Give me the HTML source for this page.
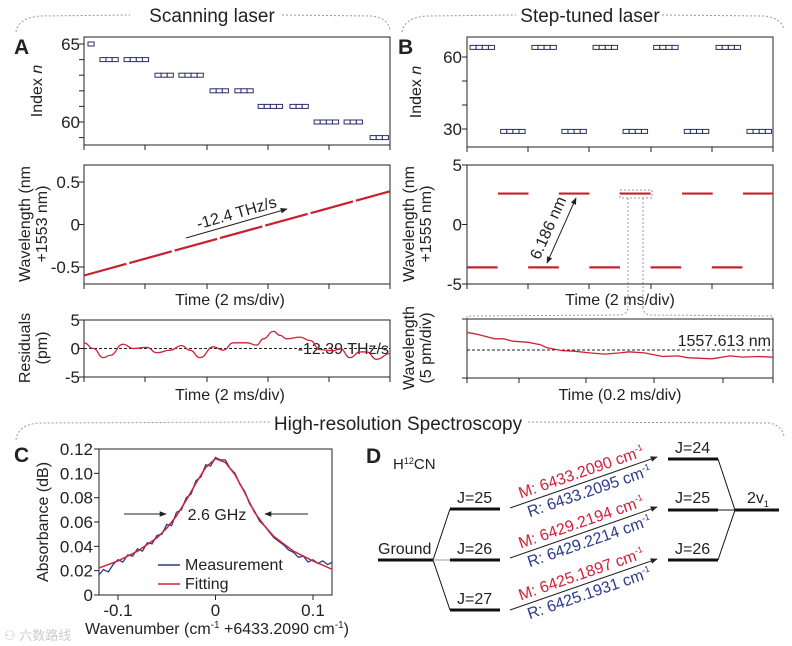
<!DOCTYPE html>
<html><head><meta charset="utf-8">
<style>
html,body{margin:0;padding:0;background:#fff;}
svg{display:block;font-family:"Liberation Sans",sans-serif;}
text{fill:#222;}
</style></head>
<body>
<svg id="fig" width="792" height="646" viewBox="0 0 792 646" xmlns="http://www.w3.org/2000/svg">
<defs>
<marker id="ah" viewBox="0 0 10 10" refX="9" refY="5" markerWidth="7" markerHeight="7" orient="auto-start-reverse"><path d="M0,1 L10,5 L0,9 z" fill="#222"/></marker>
</defs>
<g fill="none" stroke="#999" stroke-width="1" stroke-dasharray="2 2">
<path d="M16,32 Q18,18 40,16 L130,15"/><path d="M282,15 L372,16 Q388,18 390,30"/>
<path d="M402,32 Q404,18 426,16 L516,15"/><path d="M662,15 L764,16 Q782,18 784,30"/>
<path d="M16,440 Q18,424 40,423 L270,422"/><path d="M528,422 L770,423 Q782,426 784,436"/>
<path d="M467,322 L467,316 L620,315 Q628,314 628,307"/><path d="M643,307 Q643,314 650,315 L773,316 L773,322"/>
</g>
<text x="212" y="22" font-size="19" text-anchor="middle">Scanning laser</text>
<text x="590" y="22" font-size="19" text-anchor="middle">Step-tuned laser</text>
<text x="398" y="430" font-size="19" text-anchor="middle">High-resolution Spectroscopy</text>
<text x="14" y="54" font-size="21" font-weight="bold">A</text>
<text x="398" y="54" font-size="21" font-weight="bold">B</text>
<text x="14" y="462" font-size="21" font-weight="bold">C</text>
<text x="366" y="463" font-size="21" font-weight="bold">D</text>

<text transform="translate(42,91) rotate(-90)" font-size="16" text-anchor="middle">Index <tspan font-style="italic">n</tspan></text>
<text transform="translate(30,224) rotate(-90)" font-size="16" text-anchor="middle">Wavelength (nm</text>
<text transform="translate(47,224) rotate(-90)" font-size="16" text-anchor="middle">+1553 nm)</text>
<text x="230" y="305" font-size="16" text-anchor="middle">Time (2 ms/div)</text>
<text transform="translate(30,348) rotate(-90)" font-size="16" text-anchor="middle">Residuals</text>
<text transform="translate(47,348) rotate(-90)" font-size="16" text-anchor="middle">(pm)</text>
<text x="230" y="400" font-size="16" text-anchor="middle">Time (2 ms/div)</text>
<text transform="translate(421,92) rotate(-90)" font-size="16" text-anchor="middle">Index <tspan font-style="italic">n</tspan></text>
<text transform="translate(414,224) rotate(-90)" font-size="16" text-anchor="middle">Wavelength (nm</text>
<text transform="translate(431,224) rotate(-90)" font-size="16" text-anchor="middle">+1555 nm)</text>
<text x="620" y="305" font-size="16" text-anchor="middle">Time (2 ms/div)</text>
<text transform="translate(414,348) rotate(-90)" font-size="16" text-anchor="middle">Wavelength</text>
<text transform="translate(431,348) rotate(-90)" font-size="16" text-anchor="middle">(5 pm/div)</text>
<text x="620" y="400" font-size="16" text-anchor="middle">Time (0.2 ms/div)</text>
<text transform="translate(48,522) rotate(-90)" font-size="16" text-anchor="middle">Absorbance (dB)</text>
<text x="217" y="634" font-size="16" text-anchor="middle">Wavenumber (cm<tspan font-size="10" dy="-6">-1</tspan><tspan dy="6"> +6433.2090 cm</tspan><tspan font-size="10" dy="-6">-1</tspan><tspan dy="6">)</tspan></text>

<line x1="186" y1="238" x2="287" y2="209" stroke="#222" stroke-width="1" marker-end="url(#ah)"/>
<text transform="translate(238,218) rotate(-16)" font-size="16" text-anchor="middle">-12.4 THz/s</text>
<text x="389" y="354" font-size="16" text-anchor="end">-12.39 THz/s</text>
<line x1="576" y1="198" x2="547" y2="263" stroke="#222" stroke-width="1" marker-end="url(#ah)" marker-start="url(#ah)"/>
<text transform="translate(553,230) rotate(-66)" font-size="16" text-anchor="middle">6.186 nm</text>
<rect x="620" y="190" width="32" height="8" fill="none" stroke="#999" stroke-dasharray="2 2"/>
<line x1="628" y1="198" x2="628" y2="307" stroke="#999" stroke-dasharray="2 2"/>
<line x1="643" y1="198" x2="643" y2="307" stroke="#999" stroke-dasharray="2 2"/>
<text x="771" y="346" font-size="16" text-anchor="end">1557.613 nm</text>
<line x1="124" y1="514" x2="166" y2="514" stroke="#222" marker-end="url(#ah)"/>
<line x1="308" y1="514" x2="265" y2="514" stroke="#222" marker-end="url(#ah)"/>
<text x="217" y="520" font-size="16" text-anchor="middle">2.6 GHz</text>
<line x1="158" y1="565" x2="180" y2="565" stroke="#2a3a8a" stroke-width="1.5"/>
<text x="185" y="570" font-size="16">Measurement</text>
<line x1="158" y1="584" x2="180" y2="584" stroke="#d0203a" stroke-width="1.5"/>
<text x="185" y="589" font-size="16">Fitting</text>

<g>
<text x="393" y="469" font-size="15">H<tspan font-size="9" dy="-5">12</tspan><tspan dy="5">CN</tspan></text>
<g stroke="#111" stroke-width="3">
<line x1="378" y1="560" x2="433" y2="560"/>
<line x1="450" y1="509" x2="500" y2="509"/>
<line x1="450" y1="560" x2="500" y2="560"/>
<line x1="450" y1="610" x2="500" y2="610"/>
<line x1="668" y1="459" x2="718" y2="459"/>
<line x1="668" y1="510" x2="718" y2="510"/>
<line x1="668" y1="560" x2="718" y2="560"/>
<line x1="735" y1="510" x2="779" y2="510"/>
</g>
<g stroke="#111" stroke-width="1" fill="none">
<path d="M433,560 L450,509 M433,560 L450,610 M718,459 L735,510 L718,560 M718,510 L735,510"/>
<line x1="433" y1="560" x2="450" y2="560" stroke="#999"/>
</g>
<text x="378" y="554" font-size="16">Ground</text>
<text x="457" y="503" font-size="16">J=25</text>
<text x="457" y="554" font-size="16">J=26</text>
<text x="457" y="604" font-size="16">J=27</text>
<text x="675" y="453" font-size="16">J=24</text>
<text x="675" y="503" font-size="16">J=25</text>
<text x="675" y="554" font-size="16">J=26</text>
<text x="747" y="503" font-size="16">2v<tspan font-size="9" dy="4">1</tspan></text>
<g id="trans"></g>
</g>
<g id="plots"></g>
<text x="4" y="640" font-size="13" style="fill:#ccc">⚇ 六数路线</text>
</svg>
<script>
const aIdxLevels = [65,64,64,63,63,62,62,61,61,60,60,59];
const aIdxStarts = [0.13,0.52,1.31,2.32,3.10,4.12,4.93,5.69,6.73,7.52,8.50,9.35];
const aIdxCounts = [1,3,4,3,4,3,3,4,3,4,3,3];
const aSweepTimes = [0,10];
const aSweepValues = [-0.6,0.39];
const resTimes = [0,0.3,0.63,0.85,1.28,1.61,2.05,2.38,2.81,3.19,3.46,3.79,4.23,4.55,4.88,5.32,5.64,5.86,6.19,6.41,6.62,7.06,7.39,7.71,8.15,8.37,8.69,9.02,9.24,9.56,10];
const resValues = [1.0,0,-1.6,-1.2,0.75,0,0.2,-0.75,-0.3,0.5,-0.3,-1.6,0.3,-0.3,1.0,1.0,0.6,1.7,3.0,2.3,1.7,2.0,1.4,-0.2,-0.4,0,-1.6,-0.6,-0.6,-1.9,-0.9];
const bUpperStarts = [0.1,2.12,4.12,6.1,8.14];
const bLowerStarts = [1.1,3.1,5.1,7.1,9.15];
const bUpperLevel = 64, bLowerLevel = 29;
const bHighStarts = [1.01,3.0,5.0,7.03,9.02];
const bLowStarts = [0,2,4,6,8];
const bHighValue = 2.6, bLowValue = -3.6, bStepLen = 1.0;
const zTimes = [0,0.04,0.09,0.12,0.15,0.2,0.24,0.26,0.31,0.35,0.4,0.45,0.5,0.53,0.58,0.64,0.69,0.72,0.8,0.86,0.9,0.95,1];
const zValues = [3.0,2.6,1.9,1.9,1.5,1.3,0.9,0.4,-0.1,-0.2,-0.5,-0.7,-0.5,-0.3,-0.5,-1.1,-1.0,-1.3,-1.5,-1.0,-1.2,-1.1,-1.2];
const cFitX = [-0.12,-0.1,-0.08,-0.06,-0.05,-0.04,-0.03,-0.02,-0.01,0,0.01,0.02,0.03,0.04,0.05,0.06,0.08,0.1,0.12];
const cFitY = [0.022,0.028,0.036,0.047,0.055,0.065,0.078,0.092,0.105,0.112,0.109,0.099,0.084,0.068,0.057,0.048,0.036,0.028,0.021];
const cMeasX = [-0.12,-0.115,-0.11,-0.105,-0.1,-0.095,-0.09,-0.085,-0.08,-0.075,-0.07,-0.065,-0.06,-0.055,-0.05,-0.045,-0.04,-0.035,-0.03,-0.025,-0.02,-0.015,-0.01,-0.005,0,0.005,0.01,0.015,0.02,0.025,0.03,0.035,0.04,0.045,0.05,0.055,0.06,0.065,0.07,0.075,0.08,0.085,0.09,0.095,0.1,0.105,0.11,0.115,0.12];
const cMeasY = [0.016,0.021,0.019,0.025,0.029,0.027,0.033,0.032,0.038,0.036,0.043,0.042,0.049,0.050,0.058,0.057,0.068,0.070,0.080,0.083,0.094,0.097,0.107,0.106,0.113,0.111,0.111,0.104,0.100,0.091,0.085,0.075,0.069,0.061,0.057,0.052,0.047,0.044,0.041,0.037,0.035,0.031,0.032,0.027,0.029,0.026,0.028,0.025,0.027];
const transMeasured = ["6433.2090","6429.2194","6425.1897"];
const transReference = ["6433.2095","6429.2214","6425.1931"];
const transStartY = [508,558,610];

const NS="http://www.w3.org/2000/svg";
const root=document.getElementById('plots');
function mk(tag,attrs,name,parent){
  const el=document.createElementNS(NS,tag);
  for(const k in attrs) el.setAttribute(k,attrs[k]);
  
  
  (parent||root).appendChild(el);
  return el;
}
function lin(d0,d1,r0,r1){return v=>r0+(v-d0)*(r1-r0)/(d1-d0);}
function frame(x0,y0,x1,y1,name){
  mk('rect',{x:x0,y:y0,width:x1-x0,height:y1-y0,fill:'none',stroke:'#222','stroke-width':1},name);
}
function xTicks(xs,y,name){xs.forEach(x=>mk('line',{x1:x,y1:y,x2:x,y2:y+5,stroke:'#222'},name));}
function yTicks(ys,x,name){ys.forEach(y=>mk('line',{x1:x,y1:y,x2:x-5,y2:y,stroke:'#222'},name));}
function yLab(txt,x,y,name,fs){const t=mk('text',{x:x,y:y+6,'font-size':fs||17,'text-anchor':'end'},name);t.textContent=txt;}
function path(xs,ys,sx,sy){return xs.map((v,i)=>(i?'L':'M')+sx(v).toFixed(1)+','+sy(ys[i]).toFixed(1)).join(' ');}
const divTicksA=[84,145,207,268,329,390];
const divTicksB=[467,528,589,651,712,773];

{
  const sx=lin(0,10,84,390), sy=lin(65,60,44,122);
  frame(84,37,390,145,'a-index-frame');
  xTicks(divTicksA,145,'a-index-x-tick');
  yTicks([65,64,63,62,61,60,59].map(sy),84,'a-index-y-tick');
  yLab('65',80,sy(65),'a-index-y-label');yLab('60',80,sy(60),'a-index-y-label');
  aIdxLevels.forEach((lv,i)=>{for(let k=0;k<aIdxCounts[i];k++){
    mk('rect',{x:sx(aIdxStarts[i]+k*0.2),y:sy(lv)-2,width:sx(0.2)-sx(0),height:4,fill:'#fff',stroke:'#2b2e6b','stroke-width':1},'a-index-marker');}});
}
{
  const sx=lin(0,10,84,390), sy=lin(0.5,-0.5,182,267);
  frame(84,165,390,284,'a-sweep-frame');
  xTicks(divTicksA,284,'a-sweep-x-tick');
  yTicks([0.5,0,-0.5].map(sy),84,'a-sweep-y-tick');
  yLab('0.5',80,sy(0.5),'a-sweep-y-label');yLab('0',80,sy(0),'a-sweep-y-label');yLab('-0.5',80,sy(-0.5),'a-sweep-y-label');
  mk('path',{d:path(aSweepTimes,aSweepValues,sx,sy),fill:'none',stroke:'#c8202e','stroke-width':2.2,'stroke-dasharray':'44 3'},'a-sweep-line');
}
{
  const sx=lin(0,10,84,390), sy=lin(5,-5,320,377);
  frame(84,320,390,377,'a-residuals-frame');
  xTicks(divTicksA,377,'a-residuals-x-tick');
  yTicks([5,0,-5].map(sy),84,'a-residuals-y-tick');
  yLab('5',80,sy(5),'a-residuals-y-label');yLab('0',80,sy(0),'a-residuals-y-label');yLab('-5',80,sy(-5),'a-residuals-y-label');
  mk('line',{x1:84,x2:390,y1:sy(0),y2:sy(0),stroke:'#222','stroke-dasharray':'3 2'},'a-residuals-zero-line');
  const d=resTimes.map((t,i)=>{const x=sx(t),y=sy(resValues[i]);if(i===0)return 'M'+x+','+y;const px=sx(resTimes[i-1]),py=sy(resValues[i-1]);const mx=(px+x)/2;return 'C'+mx+','+py+' '+mx+','+y+' '+x+','+y;}).join(' ');
  mk('path',{d:d,fill:'none',stroke:'#d0203a','stroke-width':1.3},'a-residuals-curve');
}
{
  const sx=lin(0,10,467,773), sy=lin(60,30,57,129);
  frame(467,37,773,147,'b-index-frame');
  xTicks(divTicksB,147,'b-index-x-tick');
  yTicks([60,50,40,30].map(sy),467,'b-index-y-tick');
  yLab('60',462,sy(60),'b-index-y-label');yLab('30',462,sy(30),'b-index-y-label');
  [[bUpperStarts,bUpperLevel],[bLowerStarts,bLowerLevel]].forEach(([st,lv])=>st.forEach(s=>{for(let k=0;k<4;k++){
    mk('rect',{x:sx(s+k*0.2),y:sy(lv)-2,width:sx(0.2)-sx(0),height:4,fill:'#fff',stroke:'#2b2e6b','stroke-width':1},'b-index-marker');}}));
}
{
  const sx=lin(0,10,467,773), sy=lin(5,-5,165,284);
  frame(467,165,773,284,'b-steps-frame');
  xTicks(divTicksB,284,'b-steps-x-tick');
  yTicks([5,0,-5].map(sy),467,'b-steps-y-tick');
  yLab('5',462,sy(5),'b-steps-y-label');yLab('0',462,sy(0),'b-steps-y-label');yLab('-5',462,sy(-5),'b-steps-y-label');
  bHighStarts.forEach(s=>mk('line',{x1:sx(s),x2:sx(s+bStepLen),y1:sy(bHighValue),y2:sy(bHighValue),stroke:'#c8202e','stroke-width':2.2},'b-high-step'));
  bLowStarts.forEach(s=>mk('line',{x1:sx(s),x2:sx(s+bStepLen),y1:sy(bLowValue),y2:sy(bLowValue),stroke:'#c8202e','stroke-width':2.2},'b-low-step'));
}
{
  const sx=lin(0,1,467,773), sy=lin(0,1,350,344.1);
  frame(467,319,773,378,'b-zoom-frame');
  xTicks([467,519,586,654,723,773],378,'b-zoom-x-tick');
  yTicks([319,378],467,'b-zoom-y-tick');
  mk('line',{x1:467,x2:773,y1:350,y2:350,stroke:'#222','stroke-dasharray':'3 2'},'b-zoom-target-line');
  mk('path',{d:path(zTimes,zValues,sx,sy),fill:'none',stroke:'#d0203a','stroke-width':1.3},'b-zoom-curve');
}
{
  const sx=lin(-0.1,0.1,118,313), sy=lin(0.12,0,449,595);
  frame(99,449,332,595,'c-frame');
  [-0.1,0,0.1].forEach(v=>{mk('line',{x1:sx(v),x2:sx(v),y1:595,y2:600,stroke:'#222'},'c-x-tick');
    const t=mk('text',{x:sx(v),y:616,'font-size':17,'text-anchor':'middle'},'c-x-label');t.textContent=v===0?'0':(v<0?'-0.1':'0.1');});
  ['0','0.02','0.04','0.06','0.08','0.10','0.12'].forEach((s,i)=>{const y=sy(i*0.02);
    mk('line',{x1:99,x2:94,y1:y,y2:y,stroke:'#222'},'c-y-tick');yLab(s,93,y,'c-y-label',17);});
  mk('path',{d:path(cMeasX,cMeasY,sx,sy),fill:'none',stroke:'#2a3a8a','stroke-width':1.3},'c-measurement-line');
  mk('path',{d:path(cFitX,cFitY,sx,sy),fill:'none',stroke:'#d0203a','stroke-width':1.5,'stroke-linejoin':'round'},'c-fitting-line');
}
{
  const g=document.getElementById('trans');
  transStartY.forEach((y0,i)=>{
    mk('line',{x1:510,y1:y0,x2:657,y2:y0-51,stroke:'#222','stroke-width':1,'marker-end':'url(#ah)'},'transition-arrow',g);
    const a=-19.1;
    const tm=mk('text',{transform:'translate(583,'+(y0-31)+') rotate('+a+')','font-size':16,'text-anchor':'middle',style:'fill:#d0203a'},'measured-wavenumber',g);
    tm.innerHTML='M: '+transMeasured[i]+' cm<tspan font-size="9" dy="-6">-1</tspan>';
    const tr=mk('text',{transform:'translate(591,'+(y0-12)+') rotate('+a+')','font-size':16,'text-anchor':'middle',style:'fill:#2b3a8c'},'reference-wavenumber',g);
    tr.innerHTML='R: '+transReference[i]+' cm<tspan font-size="9" dy="-6">-1</tspan>';
  });
}
</script>
</body></html>
